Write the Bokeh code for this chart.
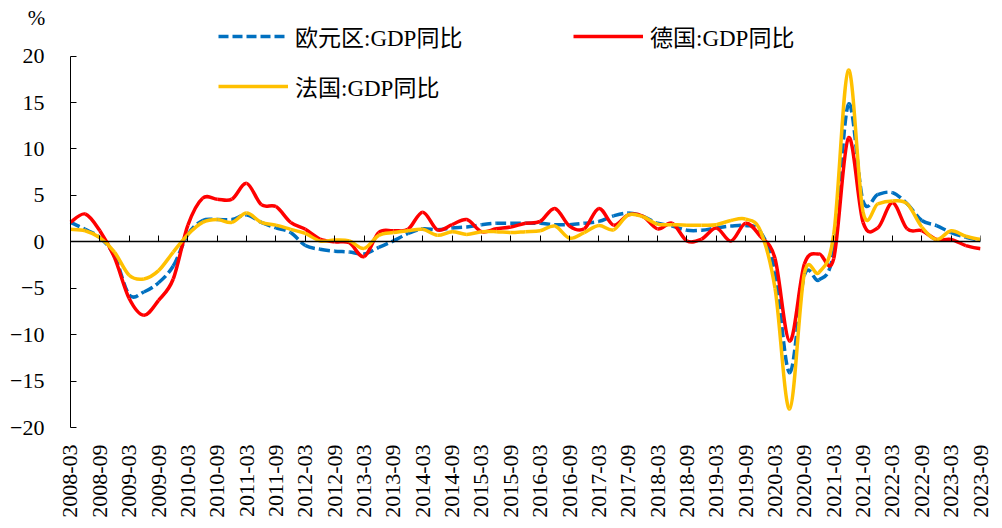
import numpy as np
from bokeh.plotting import figure
from bokeh.models import (Range1d, FixedTicker, LinearAxis, Legend, LegendItem,
                          Label, ColumnDataSource, CustomLabelingPolicy)
from bokeh.embed import file_html
from bokeh.resources import INLINE

# ---------------- data ----------------
quarters = [f"{y}-{m:02d}" for y in range(2008, 2024) for m in (3, 6, 9, 12)][:63]

euro = [2.1, 1.35, 0.45, -1.5, -5.7, -5.4, -4.4, -2.6, 0.8, 2.3,
        2.4, 2.4, 2.9, 2.1, 1.5, 1.0, -0.4, -0.8, -1.0, -1.1,
        -1.3, -0.6, 0.1, 0.9, 1.4, 1.3, 1.5, 1.6, 1.85, 2.0,
        2.0, 2.0, 2.0, 1.85, 1.85, 2.0, 2.2, 2.8, 3.1, 2.75,
        2.0, 1.7, 1.25, 1.25, 1.5, 1.7, 1.75, 1.1, -3.2, -14.1,
        -3.6, -4.1, -1.0, 14.8, 4.4, 5.1, 5.3, 4.1, 2.3, 1.75,
        1.0, 0.5, 0.15]

germany = [2.1, 3.0, 1.2, -1.7, -6.1, -7.9, -6.3, -4.0, 1.8, 4.7,
           4.6, 4.6, 6.3, 4.0, 3.8, 2.1, 1.35, 0.3, 0.0, -0.1,
           -1.6, 1.0, 1.2, 1.35, 3.2, 1.3, 1.85, 2.4, 1.1, 1.4,
           1.6, 2.0, 2.2, 3.6, 1.7, 1.4, 3.6, 1.8, 2.9, 2.75,
           1.4, 2.0, 0.1, 0.3, 1.5, 0.1, 2.0, 0.6, -1.8, -10.7,
           -2.4, -1.3, -1.8, 11.2, 2.1, 1.5, 4.2, 1.4, 1.2, 0.25,
           0.25, -0.4, -0.75]

france = [1.35, 1.2, 0.45, -1.1, -3.6, -4.0, -3.1, -1.1, 0.8, 2.1,
          2.4, 2.1, 3.1, 2.1, 1.8, 1.35, 0.9, 0.1, 0.2, 0.1,
          -0.7, 0.7, 1.0, 1.2, 1.35, 0.7, 1.1, 0.8, 1.1, 1.1,
          1.0, 1.1, 1.2, 1.7, 0.4, 1.0, 1.75, 1.3, 2.9, 2.7,
          1.9, 1.85, 1.8, 1.8, 1.85, 2.3, 2.45, 1.2, -5.0, -18.0,
          -3.4, -3.3, 0.8, 18.5, 3.2, 4.1, 4.4, 4.1, 1.6, 0.25,
          1.2, 0.6, 0.25]

series_names = ["欧元区:GDP同比", "德国:GDP同比", "法国:GDP同比"]
y_ticks = [-20, -15, -10, -5, 0, 5, 10, 15, 20]

# ------------- smooth (Excel-like) segments through the data points -------------
def smooth_source(vals):
    ys = np.asarray(vals, dtype=float)
    xs = np.arange(len(ys), dtype=float)
    xp = np.concatenate([[xs[0]], xs, [xs[-1]]])
    yp = np.concatenate([[ys[0]], ys, [ys[-1]]])
    n = len(ys)
    i = np.arange(n - 1)
    cur_x, nxt_x = xs[i], xs[i + 1]
    cur_y, nxt_y = ys[i], ys[i + 1]
    prv_x, prv_y = xp[i], yp[i]
    nn_x, nn_y = xp[i + 3], yp[i + 3]
    return ColumnDataSource(dict(
        x0=cur_x, y0=cur_y, x1=nxt_x, y1=nxt_y,
        cx0=cur_x + (nxt_x - prv_x) / 6.0, cy0=cur_y + (nxt_y - prv_y) / 6.0,
        cx1=nxt_x - (nn_x - cur_x) / 6.0, cy1=nxt_y - (nn_y - cur_y) / 6.0))

FONT = "Liberation Serif, Noto Sans CJK SC"

n = len(quarters)
# the frame covers the whole left/top area so that legend, "%" and labels are not clipped
PX_X = 14.68           # pixels per quarter
PX_Y = 9.35            # pixels per percentage point
LEFT_PAD = 70          # pixels left of the first quarter
TOP_PAD = 56           # pixels above +20
BOTTOM_PAD = 12        # pixels below -20
x_lo = -LEFT_PAD / PX_X
y_hi = max(y_ticks) + TOP_PAD / PX_Y
y_lo = min(y_ticks) - BOTTOM_PAD / PX_Y

p = figure(width=994, height=520,
           x_range=Range1d(x_lo, n - 1), y_range=Range1d(y_lo, y_hi),
           output_backend="svg", toolbar_location=None, y_axis_location=None,
           min_border_left=0, min_border_right=14,
           min_border_top=0, min_border_bottom=78)
p.xgrid.visible = False
p.ygrid.visible = False
p.outline_line_color = None
p.background_fill_color = "white"
p.border_fill_color = "white"

hide_all = CustomLabelingPolicy(code="""
    for (const i of indices) { indices.unset(i) }
    return indices
""")

# y axis, standing at the first quarter
ya = LinearAxis(fixed_location=0, bounds=(min(y_ticks), max(y_ticks)),
                ticker=FixedTicker(ticks=y_ticks))
ya.major_tick_in = 6
ya.major_tick_out = 0
ya.minor_tick_in = 0
ya.minor_tick_out = 0
ya.axis_line_color = "black"
ya.major_tick_line_color = "black"
ya.major_label_text_font = FONT
ya.major_label_text_font_size = "22px"
ya.major_label_text_color = "black"
ya.major_label_standoff = 26
p.add_layout(ya, "left")

# bottom labels axis
label_ticks = list(range(0, n, 2))
xa = p.xaxis[0]
xa.ticker = FixedTicker(ticks=label_ticks)
xa.major_label_overrides = {i: quarters[i] for i in label_ticks}
xa.major_label_orientation = np.pi / 2
xa.axis_line_alpha = 0
xa.major_tick_in = 0
xa.major_tick_out = 0
xa.minor_tick_in = 0
xa.minor_tick_out = 0
xa.major_label_text_font = FONT
xa.major_label_text_font_size = "22px"
xa.major_label_text_color = "black"
xa.major_label_standoff = 5

# axis line at zero with its tick marks
za = LinearAxis(fixed_location=0, bounds=(0, n - 1),
                ticker=FixedTicker(ticks=label_ticks))
za.major_tick_in = 6
za.major_tick_out = 0
za.minor_tick_in = 0
za.minor_tick_out = 0
za.major_label_policy = hide_all
za.major_label_standoff = 0
za.axis_line_color = "black"
za.axis_line_width = 1.3
za.major_tick_line_color = "black"
p.add_layout(za, "below")

# series
rb = p.bezier(x0="x0", y0="y0", x1="x1", y1="y1", cx0="cx0", cy0="cy0",
              cx1="cx1", cy1="cy1", source=smooth_source(euro),
              line_color="#0070C0", line_width=3.5, line_dash="10 4")
rr = p.bezier(x0="x0", y0="y0", x1="x1", y1="y1", cx0="cx0", cy0="cy0",
              cx1="cx1", cy1="cy1", source=smooth_source(germany),
              line_color="#FF0000", line_width=3.5)
ry = p.bezier(x0="x0", y0="y0", x1="x1", y1="y1", cx0="cx0", cy0="cy0",
              cx1="cx1", cy1="cy1", source=smooth_source(france),
              line_color="#FFC000", line_width=3.5)

def make_legend(items, loc, orient):
    return Legend(items=items, location=loc, orientation=orient,
                  border_line_color=None, background_fill_alpha=0,
                  padding=0, margin=0, spacing=8,
                  glyph_width=70, glyph_height=24, label_height=24,
                  label_width=270, label_standoff=7,
                  label_text_font=FONT, label_text_font_size="23px",
                  label_text_color="black")

leg1 = make_legend([LegendItem(label=series_names[0], renderers=[rb]),
                    LegendItem(label=series_names[1], renderers=[rr])],
                   (218, 386), "horizontal")
leg2 = make_legend([LegendItem(label=series_names[2], renderers=[ry])],
                   (218, 336), "vertical")
p.add_layout(leg1)
p.add_layout(leg2)

p.add_layout(Label(x=36, y=422, x_units="screen", y_units="screen", text="%",
                   text_font=FONT, text_font_size="21px", text_color="black",
                   text_align="center", text_baseline="middle"))

open("out.html", "w").write(file_html(p, INLINE))
